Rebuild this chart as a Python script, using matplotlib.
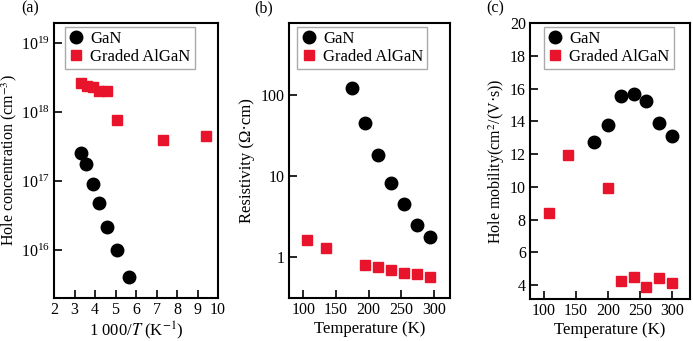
import matplotlib
matplotlib.use("Agg")
import matplotlib.pyplot as plt
from matplotlib.ticker import NullLocator, FixedLocator

plt.rcParams.update({"font.family": "Liberation Serif", "mathtext.fontset": "stix",
                     "font.size": 11.5, "axes.linewidth": 1.5})

# (a) hole concentration vs 1000/T
a_gan_x = [3.32, 3.58, 3.89, 4.2, 4.6, 5.06, 5.67]
a_gan_y = [2.6e17, 1.8e17, 9e16, 4.8e16, 2.2e16, 1.0e16, 4.1e15]
a_alg_x = [3.32, 3.6, 3.9, 4.2, 4.6, 5.06, 7.3, 9.41]
a_alg_y = [2.6e18, 2.4e18, 2.35e18, 2.0e18, 2.0e18, 7.7e17, 4.0e17, 4.5e17]

# (b) resistivity vs T
b_gan_x = [175, 195, 215, 235, 255, 275, 295]
b_gan_y = [121, 45, 18, 8.3, 4.5, 2.5, 1.77]
b_alg_x = [105, 135, 195, 215, 235, 255, 275, 295]
b_alg_y = [1.6, 1.27, 0.79, 0.74, 0.69, 0.64, 0.61, 0.57]

# (c) hole mobility vs T
c_gan_x = [178, 200, 220, 240, 260, 280, 300]
c_gan_y = [12.74, 13.76, 15.53, 15.65, 15.23, 13.9, 13.1]
c_alg_x = [107, 138, 200, 220, 240, 260, 280, 300]
c_alg_y = [8.43, 11.97, 9.9, 4.25, 4.51, 3.86, 4.41, 4.15]

RED = "#e8142c"
W, H = 693, 341
fig = plt.figure(figsize=(W / 100, H / 100), dpi=100)

def box(l, r, t, b):
    return [l / W, 1 - b / H, (r - l) / W, (b - t) / H]

ax_a = fig.add_axes(box(54, 218, 23, 298))
ax_b = fig.add_axes(box(289, 450, 23, 298))
ax_c = fig.add_axes(box(530, 690, 23, 299))

def draw(ax, gx, gy, rx, ry, legx):
    ax.plot(gx, gy, "o", color="black", ms=9, label="GaN")
    ax.plot(rx, ry, "s", color=RED, ms=7.5, label="Graded AlGaN")
    ax.tick_params(direction="in", length=6, width=1.2, top=False, right=False,
                   labelsize=11.5, pad=3)
    leg = ax.legend(loc="upper left", bbox_to_anchor=(legx, 0.985), fancybox=False,
                    edgecolor="#aaaaaa", framealpha=1, handlelength=0.9,
                    handletextpad=0.4, borderpad=0.25, labelspacing=0.1,
                    borderaxespad=0, fontsize=12)
    leg.get_frame().set_linewidth(1.0)

draw(ax_a, a_gan_x, a_gan_y, a_alg_x, a_alg_y, 0.065)
ax_a.set_yscale("log")
ax_a.set_ylim(2.05e15, 1.95e19)
ax_a.set_xlim(2, 10)
ax_a.set_xticks(range(2, 11))
ax_a.yaxis.set_major_locator(FixedLocator([1e16, 1e17, 1e18, 1e19]))
ax_a.yaxis.set_minor_locator(NullLocator())
ax_a.set_ylabel("Hole concentration (cm$^{-3}$)", fontsize=11.5, labelpad=1)
ax_a.set_xlabel("1 000/$T$ (K$^{-1}$)", fontsize=12, labelpad=1)

draw(ax_b, b_gan_x, b_gan_y, b_alg_x, b_alg_y, 0.05)
ax_b.set_yscale("log")
ax_b.set_ylim(0.31, 780)
ax_b.set_xlim(78, 325)
ax_b.set_xticks([100, 150, 200, 250, 300])
ax_b.yaxis.set_major_locator(FixedLocator([1, 10, 100]))
ax_b.yaxis.set_minor_locator(NullLocator())
ax_b.set_yticklabels(["1", "10", "100"])
ax_b.set_ylabel("Resistivity (Ω·cm)", fontsize=12)
ax_b.set_xlabel("Temperature (K)", fontsize=12, labelpad=2)

draw(ax_c, c_gan_x, c_gan_y, c_alg_x, c_alg_y, 0.085)
ax_c.set_ylim(3.15, 20)
ax_c.set_xlim(78, 328)
ax_c.set_xticks([100, 150, 200, 250, 300])
ax_c.set_yticks(range(4, 21, 2))
ax_c.set_ylabel("Hole mobility(cm$^{2}$/(V·s))", fontsize=11.5, labelpad=2)
ax_c.set_xlabel("Temperature (K)", fontsize=12, labelpad=2)

fig.text(30 / W, 1 - 8 / H, "(a)", fontsize=11.5, ha="center", va="center")
fig.text(264 / W, 1 - 8 / H, "(b)", fontsize=11.5, ha="center", va="center")
fig.text(495 / W, 1 - 8 / H, "(c)", fontsize=11.5, ha="center", va="center")

fig.savefig("out.png", dpi=100)
